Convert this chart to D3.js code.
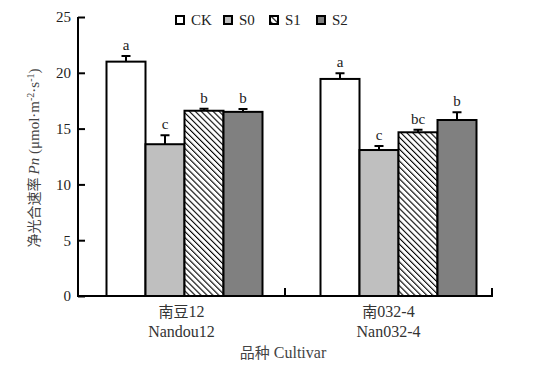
<!DOCTYPE html>
<html>
<head>
<meta charset="utf-8">
<script src="https://cdn.jsdelivr.net/npm/d3@7"></script>
<style>
  body { margin: 0; background: #fff; }
</style>
</head>
<body>
<div id="chart"></div>
<script>
// Dados
const cultivarsCn = ['南豆12', '南032-4'];
const cultivarsEn = ['Nandou12', 'Nan032-4'];
const treatments = ['CK', 'S0', 'S1', 'S2'];
const meansNandou = [21.0, 13.6, 16.6, 16.5];
const meansNan032 = [19.45, 13.08, 14.67, 15.77];
const errNandou = [0.5, 0.8, 0.18, 0.25];
const errNan032 = [0.5, 0.36, 0.22, 0.69];
const lettersNandou = ['a', 'c', 'b', 'b'];
const lettersNan032 = ['a', 'c', 'bc', 'b'];
const yTicks = [0, 5, 10, 15, 20, 25];

const chartData = [];
[[meansNandou, errNandou, lettersNandou], [meansNan032, errNan032, lettersNan032]].forEach(([m, e, l], i) => {
    treatments.forEach((t, j) => {
        chartData.push({cultivar: cultivarsEn[i], treatment: t, mean: m[j], err: e[j], letter: l[j]});
    });
});

const SERIF = '"Liberation Serif", "Times New Roman", serif';
const CJK = '"Noto Sans CJK SC", sans-serif';

const W = 536, H = 370;
const plotLeft = 78, plotRight = 492, plotTop = 17, plotBottom = 296;

const svg = d3.select('#chart').append('svg')
    .attr('width', W)
    .attr('height', H)
    .style('font-family', SERIF);

// Padrão hachurado
const defs = svg.append('defs');
const pat = defs.append('pattern')
    .attr('id', 'hatch')
    .attr('patternUnits', 'userSpaceOnUse')
    .attr('width', 4.2)
    .attr('height', 4.2)
    .attr('patternTransform', 'rotate(-45)');
pat.append('rect').attr('width', 4.2).attr('height', 4.2).attr('fill', '#fff');
pat.append('line')
    .attr('x1', 0).attr('y1', 0).attr('x2', 0).attr('y2', 4.2)
    .attr('stroke', '#000').attr('stroke-width', 2.2);

const fills = {CK: '#ffffff', S0: '#bfbfbf', S1: 'url(#hatch)', S2: '#808080'};

// Escalas
const x0 = d3.scaleBand().domain(cultivarsEn).range([plotLeft, plotRight]);
const xb = d3.scaleBand().domain(cultivarsEn).range([77.5, 505.5]);
const x1 = d3.scaleBand().domain(treatments).range([0, 156]);
const y = d3.scaleLinear().domain([0, 25]).range([plotBottom, plotTop]);

// Barras
svg.selectAll('.bar')
    .data(chartData)
    .enter()
    .append('rect')
    .attr('class', 'bar')
    .attr('x', d => xb(d.cultivar) + xb.bandwidth() / 2 - 78 + x1(d.treatment))
    .attr('y', d => y(d.mean))
    .attr('width', x1.bandwidth())
    .attr('height', d => y(0) - y(d.mean))
    .attr('fill', d => fills[d.treatment])
    .attr('stroke', '#000')
    .attr('stroke-width', 2);

const cx = d => xb(d.cultivar) + xb.bandwidth() / 2 - 78 + x1(d.treatment) + x1.bandwidth() / 2;

// Barras de erro
svg.selectAll('.err')
    .data(chartData)
    .enter()
    .append('path')
    .attr('d', d => `M${cx(d)},${y(d.mean)}V${y(d.mean + d.err)}M${cx(d) - 4.5},${y(d.mean + d.err)}h9`)
    .attr('fill', 'none')
    .attr('stroke', '#000')
    .attr('stroke-width', 2);

// Letras de significância
svg.selectAll('.letter')
    .data(chartData)
    .enter()
    .append('text')
    .attr('x', cx)
    .attr('y', d => y(d.mean + d.err) - 6)
    .attr('text-anchor', 'middle')
    .style('font-family', SERIF)
    .style('font-size', '15px')
    .style('fill', '#222')
    .text(d => d.letter);

// Eixo Y
const yAxis = svg.append('g')
    .attr('transform', `translate(${plotLeft},0)`)
    .call(d3.axisRight(y).tickValues(yTicks).tickSize(7).tickFormat(d3.format('d')));
yAxis.select('.domain').attr('d', `M0,${plotTop}V${plotBottom}`).attr('stroke-width', 2);
yAxis.selectAll('.tick line').attr('stroke-width', 2);
yAxis.selectAll('.tick text')
    .attr('x', -7)
    .attr('text-anchor', 'end')
    .style('font-size', '15px')
    .style('font-family', SERIF)
    .style('fill', '#222');

// Eixo X
svg.append('line')
    .attr('x1', plotLeft - 1).attr('x2', plotRight + 1)
    .attr('y1', plotBottom).attr('y2', plotBottom)
    .attr('stroke', '#000').attr('stroke-width', 2);
svg.selectAll('.xtick')
    .data(cultivarsEn)
    .enter()
    .append('line')
    .attr('x1', d => x0(d) + x0.bandwidth())
    .attr('x2', d => x0(d) + x0.bandwidth())
    .attr('y1', plotBottom).attr('y2', plotBottom - 8)
    .attr('stroke', '#000').attr('stroke-width', 2);

// Rótulos das categorias (chinês + latim)
const catCn = svg.selectAll('.catcn')
    .data(cultivarsEn)
    .enter()
    .append('text')
    .attr('x', d => x0(d) + x0.bandwidth() / 2)
    .attr('y', 317)
    .attr('text-anchor', 'middle')
    .style('font-size', '16px')
    .style('fill', '#333');
catCn.append('tspan').style('font-family', CJK).style('font-size', '15px').text((d, i) => cultivarsCn[i].slice(0, i === 0 ? 2 : 1));
catCn.append('tspan').style('font-family', SERIF).text((d, i) => cultivarsCn[i].slice(i === 0 ? 2 : 1));

svg.selectAll('.caten')
    .data(cultivarsEn)
    .enter()
    .append('text')
    .attr('x', d => x0(d) + x0.bandwidth() / 2)
    .attr('y', 337)
    .attr('text-anchor', 'middle')
    .style('font-family', SERIF)
    .style('font-size', '16px')
    .style('fill', '#333')
    .text(d => d);

// Títulos dos eixos
const xt = svg.append('text')
    .attr('x', 283)
    .attr('y', 358)
    .attr('text-anchor', 'middle')
    .style('font-size', '16px')
    .style('fill', '#444');
xt.append('tspan').style('font-family', CJK).style('font-size', '15px').text('品种');
xt.append('tspan').style('font-family', SERIF).text(' Cultivar');

const yt = svg.append('text')
    .attr('transform', 'translate(39,158) rotate(-90)')
    .attr('text-anchor', 'middle')
    .style('font-size', '15px')
    .style('font-family', SERIF)
    .style('fill', '#444');
yt.append('tspan').style('font-family', CJK).style('font-size', '14px').text('净光合速率 ');
yt.append('tspan').style('font-style', 'italic').text('Pn');
yt.append('tspan').text(' (μmol·m');
yt.append('tspan').attr('dy', -5).style('font-size', '10px').text('-2');
yt.append('tspan').attr('dy', 5).text('·s');
yt.append('tspan').attr('dy', -5).style('font-size', '10px').text('-1');
yt.append('tspan').attr('dy', 5).text(')');

// Legenda
const legendX = [176, 224, 270, 317];
const legend = svg.selectAll('.legend')
    .data(treatments)
    .enter()
    .append('g')
    .attr('transform', (d, i) => `translate(${legendX[i]},16)`);
legend.append('rect')
    .attr('width', 8).attr('height', 8)
    .attr('fill', d => fills[d])
    .attr('stroke', '#000').attr('stroke-width', 2);
legend.append('text')
    .attr('x', 15)
    .attr('y', 9)
    .style('font-family', SERIF)
    .style('font-size', '15px')
    .style('fill', '#222')
    .text(d => d);
</script>
</body>
</html>
